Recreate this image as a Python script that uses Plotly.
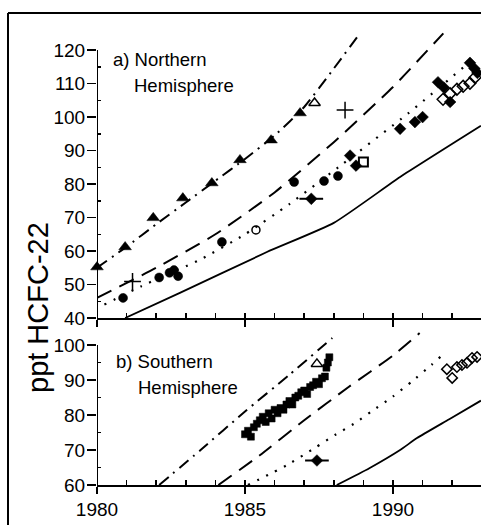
import plotly.graph_objects as go

# ---------------- Northern Hemisphere (panel a) ----------------
nh_dashdot_yr = [1980.0, 1981.0, 1982.0, 1983.0, 1984.0, 1985.0, 1986.0, 1987.0, 1988.0, 1988.8]
nh_dashdot_v = [55.0, 61.3, 68.0, 74.5, 81.0, 87.5, 94.5, 103.0, 114.5, 124.0]
nh_dash_yr = [1980.0, 1982.0, 1984.0, 1986.0, 1988.0, 1990.0, 1991.7]
nh_dash_v = [46.0, 55.0, 65.0, 77.5, 92.5, 109.0, 125.0]
nh_dot_yr = [1980.25, 1981.5, 1983.5, 1985.0, 1986.5, 1988.3, 1990.5, 1992.8]
nh_dot_v = [44.0, 49.5, 57.5, 65.0, 74.0, 86.0, 101.0, 118.0]
nh_solid_yr = [1980.95, 1982.8, 1985.74, 1988.0, 1990.24, 1992.97]
nh_solid_v = [40.0, 47.5, 59.7, 68.4, 82.1, 97.4]

nh_tri_yr = [1980.0, 1980.95, 1981.9, 1982.9, 1983.88, 1984.83, 1985.88, 1986.86]
nh_tri_v = [55.2, 61.2, 69.9, 75.8, 80.3, 87.2, 93.1, 101.2]
nh_otri_yr = [1987.35]
nh_otri_v = [104.2]
nh_plus_yr = [1981.2, 1988.38]
nh_plus_v = [50.9, 102.1]
nh_circ_yr = [1980.88, 1982.1, 1982.45, 1982.6, 1982.74, 1984.22, 1986.66, 1987.67, 1988.14]
nh_circ_v = [46.0, 52.1, 53.5, 54.3, 52.5, 62.7, 80.6, 80.9, 82.4]
nh_ocirc_yr = [1985.37]
nh_ocirc_v = [66.3]
nh_errdia_yr = [1987.24]
nh_errdia_v = [75.6]
nh_dia_yr = [1988.55, 1988.75, 1990.24, 1990.74, 1991.0, 1991.52, 1991.72, 1991.93, 1992.6, 1992.75, 1992.85]
nh_dia_v = [88.5, 85.5, 96.5, 98.5, 100.0, 110.4, 108.8, 104.5, 116.2, 114.5, 113.2]
nh_osq_yr = [1989.0]
nh_osq_v = [86.6]
nh_odia_yr = [1991.69, 1991.93, 1992.16, 1992.37, 1992.6, 1992.77]
nh_odia_v = [105.3, 107.0, 108.3, 109.2, 110.1, 111.8]

# ---------------- Southern Hemisphere (panel b) ----------------
sh_dashdot_yr = [1982.1, 1983.5, 1985.0, 1986.5, 1987.95]
sh_dashdot_v = [60.0, 70.0, 81.0, 91.5, 102.0]
sh_dash_yr = [1984.1, 1985.5, 1987.0, 1988.5, 1990.0, 1990.9]
sh_dash_v = [60.0, 68.5, 78.5, 88.0, 97.0, 103.4]
sh_dot_yr = [1985.1, 1986.42, 1987.36, 1988.04, 1988.72, 1989.32, 1990.0, 1990.64, 1991.3, 1991.6]
sh_dot_v = [60.0, 65.7, 70.6, 74.3, 77.7, 81.3, 85.3, 89.6, 94.3, 96.6]
sh_solid_yr = [1988.1, 1989.2, 1990.24, 1990.81, 1991.9, 1992.97]
sh_solid_v = [60.0, 64.8, 70.0, 73.4, 78.8, 84.1]

sh_sq_yr = [1985.0, 1985.1, 1985.2, 1985.3, 1985.4, 1985.5, 1985.6, 1985.7, 1985.8, 1985.9,
            1986.0, 1986.1, 1986.2, 1986.3, 1986.4, 1986.5, 1986.6, 1986.7, 1986.8, 1986.9,
            1987.0, 1987.1, 1987.2, 1987.3, 1987.4, 1987.5, 1987.6, 1987.7, 1987.75, 1987.8, 1987.85]
sh_sq_v = [74.5, 75.5, 73.8, 76.5, 77.5, 78.5, 79.5, 78.0, 80.5, 79.0,
           81.5, 80.5, 82.0, 81.5, 83.0, 84.0, 83.0, 85.0, 85.5, 86.5,
           87.0, 86.0, 88.0, 88.5, 89.5, 88.8, 90.5, 91.0, 93.5, 95.0, 96.5]
sh_otri_yr = [1987.43]
sh_otri_v = [94.6]
sh_errdia_yr = [1987.43]
sh_errdia_v = [67.0]
sh_odia_yr = [1991.82, 1992.0, 1992.16, 1992.33, 1992.5, 1992.67, 1992.84]
sh_odia_v = [93.1, 90.6, 93.7, 94.3, 94.9, 96.3, 96.6]

x_tick_vals = [1980, 1985, 1990]
x_tick_text = ["1980", "1985", "1990"]
nh_ytick_vals = [40, 50, 60, 70, 80, 90, 100, 110, 120]
nh_yminor_vals = [45, 55, 65, 75, 85, 95, 105, 115]
sh_ytick_vals = [60, 70, 80, 90, 100]
sh_yminor_vals = [65, 75, 85, 95]
x_minor_vals = list(range(1981, 1993))

FONT = "Arial, Liberation Sans, Helvetica, sans-serif"
BLK = "black"

fig = go.Figure()


def line(xs, ys, dash, xa, ya, width=2.0):
    fig.add_trace(go.Scatter(x=xs, y=ys, mode="lines", xaxis=xa, yaxis=ya,
                             line=dict(color=BLK, width=width, dash=dash, shape="spline", smoothing=0.5),
                             hoverinfo="skip", showlegend=False))


def pts(xs, ys, symbol, size, xa, ya, lw=1.5, err=None):
    kw = {}
    if err is not None:
        kw["error_x"] = dict(type="constant", value=err, color=BLK, thickness=2, width=0)
    fig.add_trace(go.Scatter(x=xs, y=ys, mode="markers", xaxis=xa, yaxis=ya,
                             marker=dict(symbol=symbol, size=size, color=BLK,
                                         line=dict(color=BLK, width=lw)),
                             cliponaxis=False, showlegend=False, **kw))


DD = "12px,6px,2px,6px"
DA = "16px,9px"
DO = "2px,8px"

# panel a
line(nh_dashdot_yr, nh_dashdot_v, DD, "x", "y")
line(nh_dash_yr, nh_dash_v, DA, "x", "y")
line(nh_dot_yr, nh_dot_v, DO, "x", "y", 2.2)
line(nh_solid_yr, nh_solid_v, "solid", "x", "y", 1.8)
pts(nh_tri_yr, nh_tri_v, "triangle-up", 11, "x", "y", 0.5)
pts(nh_otri_yr, nh_otri_v, "triangle-up-open", 10, "x", "y", 1.5)
pts(nh_plus_yr, nh_plus_v, "cross-thin-open", 12, "x", "y", 1.5)
pts(nh_circ_yr, nh_circ_v, "circle", 9, "x", "y", 0.5)
pts(nh_ocirc_yr, nh_ocirc_v, "circle-open", 8, "x", "y", 1.5)
pts(nh_errdia_yr, nh_errdia_v, "diamond", 9, "x", "y", 0.5, err=0.4)
pts(nh_dia_yr, nh_dia_v, "diamond", 9, "x", "y", 0.5)
pts(nh_osq_yr, nh_osq_v, "square-open", 9, "x", "y", 2)
pts(nh_odia_yr, nh_odia_v, "diamond-open", 9, "x", "y", 1.5)

# panel b
line(sh_dashdot_yr, sh_dashdot_v, DD, "x2", "y2")
line(sh_dash_yr, sh_dash_v, DA, "x2", "y2")
line(sh_dot_yr, sh_dot_v, DO, "x2", "y2", 2.2)
line(sh_solid_yr, sh_solid_v, "solid", "x2", "y2", 1.8)
pts(sh_sq_yr, sh_sq_v, "square", 7, "x2", "y2", 0.5)
pts(sh_otri_yr, sh_otri_v, "triangle-up-open", 10, "x2", "y2", 1.5)
pts(sh_errdia_yr, sh_errdia_v, "diamond", 9, "x2", "y2", 0.5, err=0.4)
pts(sh_odia_yr, sh_odia_v, "diamond-open", 8, "x2", "y2", 1.5)

XR = [1980, 1992.973]
tickfont = dict(family=FONT, size=19, color=BLK)
xcommon = dict(range=XR, showgrid=False, zeroline=False, showline=True, linecolor=BLK, linewidth=2,
               tickmode="array", tickvals=x_tick_vals, ticktext=x_tick_text,
               ticks="outside", ticklen=7, tickwidth=1.5, tickcolor=BLK,
               minor=dict(tickmode="array", tickvals=x_minor_vals, ticks="inside", ticklen=5,
                          tickwidth=1.5, tickcolor=BLK),
               tickfont=tickfont, fixedrange=True)
ycommon = dict(showgrid=False, zeroline=False, showline=False,
               ticks="outside", ticklen=9, tickwidth=1.5, tickcolor=BLK,
               tickfont=tickfont, tickmode="array", fixedrange=True, ticklabelstandoff=-2)

fig.update_layout(
    width=481, height=525,
    margin=dict(l=97, r=0, t=30, b=40),
    paper_bgcolor="white", plot_bgcolor="white",
    font=dict(family=FONT, color=BLK),
    showlegend=False,
    xaxis=dict(**xcommon, anchor="y", showticklabels=False),
    yaxis=dict(**ycommon, domain=[167 / 455, 1.0], range=[40, 126], anchor="x",
               tickvals=nh_ytick_vals,
               minor=dict(tickmode="array", tickvals=nh_yminor_vals, ticks="inside", ticklen=4,
                          tickwidth=1.5, tickcolor=BLK)),
    xaxis2=dict(**xcommon, anchor="y2", showticklabels=True, ticklabelstandoff=-1),
    yaxis2=dict(**ycommon, domain=[0, 154 / 455], range=[60, 104], anchor="x2",
                tickvals=sh_ytick_vals,
                minor=dict(tickmode="array", tickvals=sh_yminor_vals, ticks="inside", ticklen=4,
                           tickwidth=1.5, tickcolor=BLK)),
)

# y axis lines (only up to the top labelled tick)
fig.add_shape(type="line", xref="x", yref="y", x0=1980, x1=1980, y0=40, y1=120,
              line=dict(color=BLK, width=2))
fig.add_shape(type="line", xref="x2", yref="y2", x0=1980, x1=1980, y0=60, y1=100,
              line=dict(color=BLK, width=2))
# outer frame (left and top edges)
fx = (8 - 97) / 384
fy = (485 - 13) / 455
fig.add_shape(type="line", xref="paper", yref="paper", x0=fx, x1=fx, y0=-0.2, y1=fy,
              line=dict(color=BLK, width=2))
fig.add_shape(type="line", xref="paper", yref="paper", x0=fx, x1=1.05, y0=fy, y1=fy,
              line=dict(color=BLK, width=2))

lab = dict(family=FONT, size=18.5, color=BLK)
fig.add_annotation(text="a) Northern", xref="paper", yref="paper", x=(111 - 97) / 384,
                   y=(485 - 60) / 455, xanchor="left", yanchor="middle", showarrow=False, font=lab)
fig.add_annotation(text="Hemisphere", xref="paper", yref="paper", x=(132 - 97) / 384,
                   y=(485 - 85) / 455, xanchor="left", yanchor="middle", showarrow=False, font=lab)
fig.add_annotation(text="b) Southern", xref="paper", yref="paper", x=(114 - 97) / 384,
                   y=(485 - 361) / 455, xanchor="left", yanchor="middle", showarrow=False, font=lab)
fig.add_annotation(text="Hemisphere", xref="paper", yref="paper", x=(136 - 97) / 384,
                   y=(485 - 387) / 455, xanchor="left", yanchor="middle", showarrow=False, font=lab)
fig.add_annotation(text="ppt HCFC-22", xref="paper", yref="paper", x=(38 - 97) / 384,
                   y=(485 - 308) / 455, xanchor="center", yanchor="middle", textangle=-90,
                   showarrow=False, font=dict(family=FONT, size=29, color=BLK))

fig.write_html("out.html", config={"displayModeBar": False, "staticPlot": True},
               post_script="document.body.style.margin='0';document.body.style.overflow='hidden';")
